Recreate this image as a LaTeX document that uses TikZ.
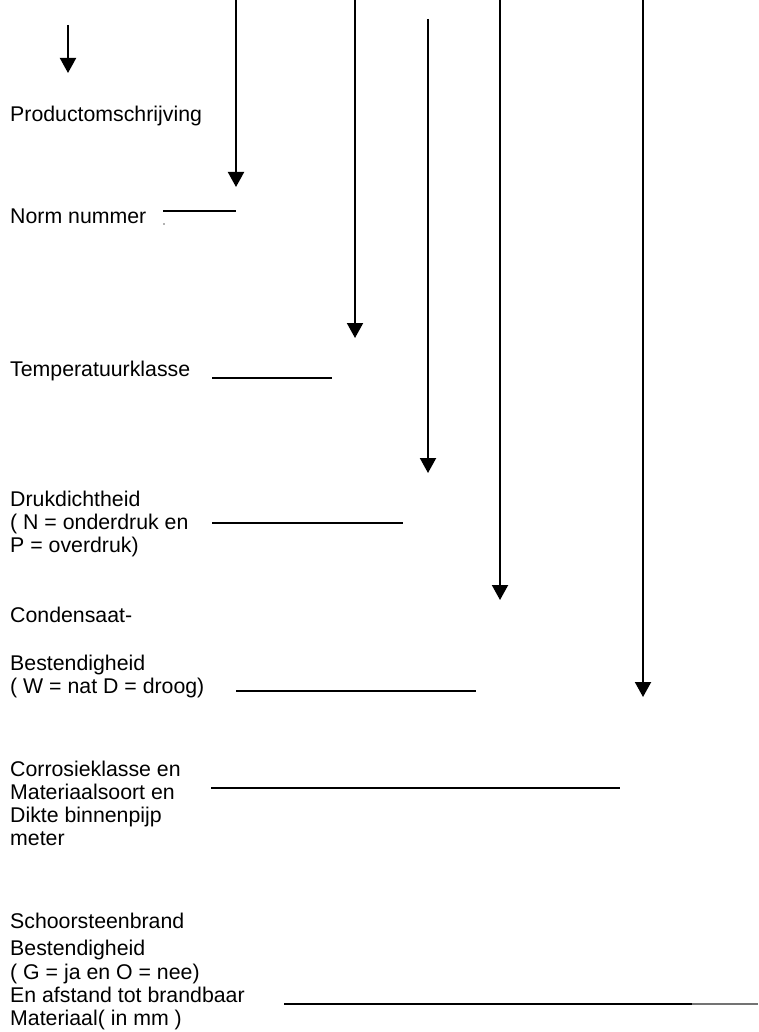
\documentclass[tikz,border=0pt]{standalone}
\usepackage{fontspec}
\setmainfont{Liberation Sans}
\usetikzlibrary{arrows.meta}
\begin{document}
\begin{tikzpicture}[x=1pt,y=-1pt,
  lbl/.style={anchor=base west, inner sep=0pt, font=\fontsize{21.3}{24}\selectfont},
  arr/.style={line width=2pt, -{Triangle[width=16pt,length=15pt]}},
  rule/.style={line width=1.8pt}]
\useasboundingbox (0,0) rectangle (758,1032);

% labels
\node[lbl] (t1) at (10,122) {Productomschrijving};
\node[lbl] (t2) at (10,223) {Norm nummer};
\node[lbl] (t3) at (10,376) {Temperatuurklasse};
\node[lbl] (t4a) at (10,506) {Drukdichtheid};
\node[lbl] (t4b) at (10,529) {( N = onderdruk en};
\node[lbl] (t4c) at (10,552) {P = overdruk)};
\node[lbl] (t5a) at (10,622) {Condensaat-};
\node[lbl] (t5b) at (10,670) {Bestendigheid};
\node[lbl] (t5c) at (10,693) {( W = nat D = droog)};
\node[lbl] (t6a) at (10,776) {Corrosieklasse en};
\node[lbl] (t6b) at (10,799) {Materiaalsoort en};
\node[lbl] (t6c) at (10,822) {Dikte binnenpijp};
\node[lbl] (t6d) at (10,845) {meter};
\node[lbl] (t7a) at (10,928) {Schoorsteenbrand};
\node[lbl] (t7b) at (10,955) {Bestendigheid};
\node[lbl] (t7c) at (10,979) {( G = ja en O = nee)};
\node[lbl] (t7d) at (10,1002) {En afstand tot brandbaar};
\node[lbl] (t7e) at (10,1025) {Materiaal( in mm )};

% arrow end points
\coordinate (a0s) at (68,25);   \coordinate (a0e) at (68,73);
\coordinate (a1s) at (236,0);   \coordinate (a1e) at (236,187);
\coordinate (a2s) at (355,0);   \coordinate (a2e) at (355,338);
\coordinate (a3s) at (428,19);  \coordinate (a3e) at (428,473);
\coordinate (a4s) at (500,0);   \coordinate (a4e) at (500,600);
\coordinate (a5s) at (643,0);   \coordinate (a5e) at (643,697);

\draw[arr] (a0s) -- (a0e);
\draw[arr] (a1s) -- (a1e);
\draw[arr] (a2s) -- (a2e);
\draw[arr] (a3s) -- (a3e);
\draw[arr] (a4s) -- (a4e);
\draw[arr] (a5s) -- (a5e);

% rule lines
\coordinate (r1s) at (163,211); \coordinate (r1e) at (236,211);
\coordinate (r2s) at (212,378); \coordinate (r2e) at (332,378);
\coordinate (r3s) at (212,523); \coordinate (r3e) at (403,523);
\coordinate (r4s) at (236,691); \coordinate (r4e) at (476,691);
\coordinate (r5s) at (211,788); \coordinate (r5e) at (620,788);
\coordinate (r6s) at (284,1004); \coordinate (r6m) at (692,1004); \coordinate (r6e) at (758,1004);

\draw[rule] (r1s) -- (r1e);
\draw[rule] (r2s) -- (r2e);
\draw[rule] (r3s) -- (r3e);
\draw[rule] (r4s) -- (r4e);
\draw[rule] (r5s) -- (r5e);
\draw[rule] (r6s) -- (r6m);
\draw[rule, black!55] (r6m) -- (r6e);

% stray dot
\fill[black!60] (164,224) circle (0.8pt);
\end{tikzpicture}
\end{document}
